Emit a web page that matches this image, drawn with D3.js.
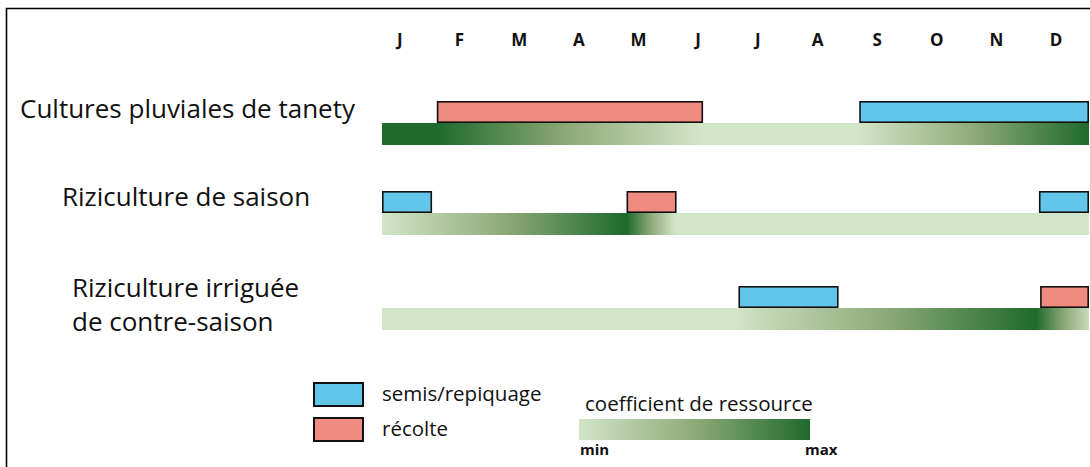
<!DOCTYPE html>
<html>
<head>
<meta charset="utf-8">
<script src="https://cdn.jsdelivr.net/npm/d3@7"></script>
<style>
  body { margin: 0; background: #fff; }
  svg { display: block; font-family: "Open Sans", sans-serif; }
</style>
</head>
<body>
<svg width="1090" height="467"></svg>
<script>
// months shown on top
const MONTHS = ['J', 'F', 'M', 'A', 'M', 'J', 'J', 'A', 'S', 'O', 'N', 'D']

// the three cropping systems (label lines)
const CROPS = [
  ['Cultures pluviales de tanety'],
  ['Riziculture de saison'],
  ['Riziculture irriguée', 'de contre-saison']
]

// activity periods, in months from 1 January (start, end)
const SOWING = [
  [[8.1, 12]],
  [[0, 0.85], [11.15, 12]],
  [[6.05, 7.75]]
]
const HARVEST = [
  [[0.93, 5.45]],
  [[4.15, 5.0]],
  [[11.17, 12]]
]

// resource coefficient along the year: [month, value 0..1]
const RESOURCE = [
  [[0, 1], [0.93, 1], [5.4, 0], [8.1, 0], [12, 1]],
  [[0, 0], [4.15, 1], [4.98, 0], [12, 0]],
  [[0, 0], [6.05, 0], [6.06, 0.02], [11.1, 1], [12, 0.08]]
]

const LEGEND = ['semis/repiquage', 'récolte']

const BLUE = '#62c6eb'
const RED = '#ef8b80'
const ROW_BAR_Y = [123, 213, 308]
const BAR_H = 22
const BOX_H = 22

const svg = d3.select('svg')
const defs = svg.append('defs')

const x = d3.scaleLinear().domain([0, 12]).range([382, 1089])
const color = d3.scaleLinear()
  .domain([0, 0.5, 1])
  .range(['#d3e5c8', '#8eaa79', '#1f6a2d'])

// frame
svg.append('path')
  .attr('d', 'M6.5,467 V8.5 H1090')
  .attr('fill', 'none')
  .attr('stroke', '#000')
  .attr('stroke-width', 1.6)

// month axis
const band = d3.scaleBand().domain(d3.range(12)).range([370, 1086])
const axis = svg.append('g')
  .attr('transform', 'translate(0,46)')
  .call(d3.axisTop(band).tickSize(0).tickFormat(i => MONTHS[i]))
axis.select('.domain').remove()
axis.selectAll('text')
  .attr('y', 0)
  .attr('dy', 0)
  .style('font-family', '"Open Sans", sans-serif')
  .style('font-size', '17px')
  .style('font-weight', 'bold')
  .attr('fill', '#111')

function gradient(id, stops, x0, x1) {
  const lg = defs.append('linearGradient')
    .attr('id', id)
    .attr('gradientUnits', 'userSpaceOnUse')
    .attr('x1', x0).attr('x2', x1).attr('y1', 0).attr('y2', 0)
  const m0 = stops[0][0], m1 = stops[stops.length - 1][0]
  const interp = d3.scaleLinear().domain(stops.map(d => d[0])).range(stops.map(d => d[1]))
  // sample finely so the 3-colour scale is followed
  const pts = d3.merge([d3.range(m0, m1, (m1 - m0) / 120), stops.map(d => d[0]), [m1]])
    .sort((a, b) => a - b)
  lg.selectAll('stop').data(pts).join('stop')
    .attr('offset', d => (d - m0) / (m1 - m0))
    .attr('stop-color', d => color(interp(d)))
}

const rows = svg.selectAll('.row').data(CROPS).join('g').attr('class', 'row')

rows.each(function(lines, i) {
  const g = d3.select(this)
  const y0 = ROW_BAR_Y[i]
  gradient('res' + i, RESOURCE[i], x(0), x(12))

  g.append('rect')
    .attr('x', x(0)).attr('y', y0)
    .attr('width', x(12) - x(0)).attr('height', BAR_H)
    .attr('fill', `url(#res${i})`)

  const boxes = SOWING[i].map(d => ({ p: d, c: BLUE }))
    .concat(HARVEST[i].map(d => ({ p: d, c: RED })))
  g.selectAll('.box').data(boxes).join('rect')
    .attr('class', 'box')
    .attr('x', d => x(d.p[0]) + 0.8)
    .attr('y', y0 - BOX_H + 0.8)
    .attr('width', d => x(d.p[1]) - x(d.p[0]) - 1.6)
    .attr('height', BOX_H - 1.6)
    .attr('fill', d => d.c)
    .attr('stroke', '#111')
    .attr('stroke-width', 1.6)
})

// row labels
const LABEL_POS = [[20, 118], [62, 206], [72, 297]]
rows.append('text')
  .attr('x', (d, i) => LABEL_POS[i][0])
  .attr('y', (d, i) => LABEL_POS[i][1])
  .style('font-size', '26px')
  .attr('fill', '#111')
  .selectAll('tspan').data(d => d).join('tspan')
  .attr('x', function() { return d3.select(this.parentNode).attr('x') })
  .attr('dy', (d, j) => j ? 34 : 0)
  .text(d => d)

// legend
const leg = svg.append('g')
leg.selectAll('rect').data(LEGEND).join('rect')
  .attr('x', 314).attr('y', (d, i) => 383 + i * 35)
  .attr('width', 49).attr('height', 23)
  .attr('fill', (d, i) => i ? RED : BLUE)
  .attr('stroke', '#111').attr('stroke-width', 2)
leg.selectAll('text').data(LEGEND).join('text')
  .attr('x', 382).attr('y', (d, i) => 401 + i * 35)
  .style('font-size', '20.5px')
  .attr('fill', '#111')
  .text(d => d)

gradient('legres', [[0, 0], [1, 1]], 579, 810)
leg.append('rect')
  .attr('x', 579).attr('y', 419)
  .attr('width', 231).attr('height', 21)
  .attr('fill', 'url(#legres)')
leg.append('text')
  .attr('x', 585).attr('y', 411)
  .style('font-size', '20.5px')
  .attr('fill', '#111')
  .text('coefficient de ressource')
leg.selectAll('.mm').data(['min', 'max']).join('text')
  .attr('class', 'mm')
  .attr('x', (d, i) => i ? 805 : 580).attr('y', 455)
  .style('font-size', '15px')
  .style('font-weight', 'bold')
  .attr('fill', '#111')
  .text(d => d)
</script>
</body>
</html>
